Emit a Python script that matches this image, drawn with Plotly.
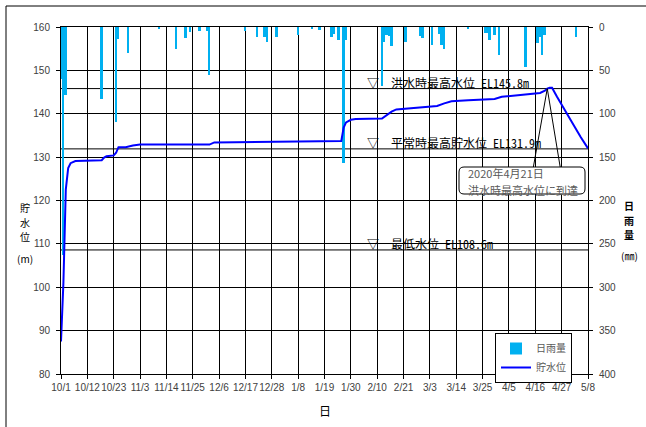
import plotly.graph_objects as go

# Daily rainfall (mm), plotted downward from the top on the right axis
rain_dates = [
    "2019-10-01", "2019-10-02", "2019-10-03", "2019-10-18", "2019-10-24", "2019-10-25",
    "2019-10-29", "2019-11-11", "2019-11-18", "2019-11-22", "2019-11-24", "2019-11-28",
    "2019-12-01", "2019-12-02", "2019-12-17", "2019-12-22", "2019-12-25", "2019-12-26",
    "2019-12-30", "2020-01-08", "2020-01-14", "2020-01-17", "2020-01-22", "2020-01-23",
    "2020-01-25", "2020-01-27", "2020-01-28", "2020-02-12", "2020-02-13", "2020-02-14",
    "2020-02-15", "2020-02-16", "2020-02-22", "2020-02-28", "2020-02-29", "2020-03-04",
    "2020-03-07", "2020-03-08", "2020-03-09", "2020-03-19", "2020-03-26", "2020-03-27",
    "2020-03-28", "2020-03-30", "2020-04-01", "2020-04-12", "2020-04-17", "2020-04-18",
    "2020-04-19", "2020-04-20", "2020-05-03",
]
rain_mm = [
    60, 263, 78, 83, 109, 14,
    30, 2, 25, 13, 6, 5,
    5, 55, 5, 12, 11, 17,
    11, 9, 2, 4, 12, 8,
    15, 157, 15, 68, 17, 9,
    10, 22, 17, 10, 13, 21,
    8, 21, 25, 2, 7, 7,
    15, 9, 32, 46, 19, 11,
    32, 9, 11,
]

# Reservoir water level (m)
level_dates = [
    "2019-10-01", "2019-10-02", "2019-10-03", "2019-10-04", "2019-10-05", "2019-10-07",
    "2019-10-18", "2019-10-19", "2019-10-20", "2019-10-23", "2019-10-24", "2019-10-25",
    "2019-10-28", "2019-10-31", "2019-11-03", "2019-12-02", "2019-12-04", "2019-12-26",
    "2019-12-28", "2020-01-26", "2020-01-27", "2020-01-28", "2020-01-30", "2020-02-01",
    "2020-02-12", "2020-02-14", "2020-02-16", "2020-02-18", "2020-02-28", "2020-03-06",
    "2020-03-09", "2020-03-12", "2020-03-19", "2020-03-30", "2020-04-02", "2020-04-05",
    "2020-04-13", "2020-04-18", "2020-04-20", "2020-04-21", "2020-04-22", "2020-04-23",
    "2020-04-25", "2020-04-27", "2020-05-01", "2020-05-05", "2020-05-08",
]
level_m = [
    87.5, 101.0, 122.5, 127.5, 128.6, 129.1,
    129.3, 129.9, 130.2, 130.4, 131.0, 132.3,
    132.3, 132.7, 132.9, 132.9, 133.4, 133.5,
    133.6, 133.7, 136.8, 138.0, 138.6, 138.8,
    138.9, 139.8, 140.5, 141.0, 141.4, 141.8,
    142.4, 142.9, 143.1, 143.4, 143.9, 144.1,
    144.5, 144.8, 145.3, 145.8, 146.0, 146.0,
    144.0, 142.0, 138.3, 134.6, 132.0,
]

tick_dates = [
    "2019-10-01", "2019-10-12", "2019-10-23", "2019-11-03", "2019-11-14", "2019-11-25",
    "2019-12-06", "2019-12-17", "2019-12-28", "2020-01-08", "2020-01-19", "2020-01-30",
    "2020-02-10", "2020-02-21", "2020-03-03", "2020-03-14", "2020-03-25", "2020-04-05",
    "2020-04-16", "2020-04-27", "2020-05-08",
]
tick_text = [
    "10/1", "10/12", "10/23", "11/3", "11/14", "11/25", "12/6", "12/17", "12/28", "1/8",
    "1/19", "1/30", "2/10", "2/21", "3/3", "3/14", "3/25", "4/5", "4/16", "4/27", "5/8",
]

ref_levels = [145.8, 131.9, 108.6]
ref_labels = ["洪水時最高水位 EL145.8m", "平常時最高貯水位 EL131.9m", "最低水位 EL108.6m"]

peak_date = "2020-04-21"
peak_level = 145.8
peak_note = ["2020年4月21日", "洪水時最高水位に到達"]

# Figure geometry (pixels)
W, H = 646, 427
L_M, R_M, T_M, B_M = 61, 58, 27, 53
PW, PH = W - L_M - R_M, H - T_M - B_M


def px(x):
    return (x - L_M) / PW


def py(y):
    return (H - B_M - y) / PH


JP = "Noto Sans CJK JP"
JP_MONO = "Noto Sans Mono CJK JP, Noto Sans CJK JP"
TICK_FONT = dict(family="Liberation Sans", size=10, color="#404040")

fig = go.Figure()
fig.add_trace(go.Bar(
    x=rain_dates, y=rain_mm, name="日雨量", yaxis="y",
    marker=dict(color="#00B0F0", line=dict(width=0)),
    width=0.8 * 86400000,
))
fig.add_trace(go.Scatter(
    x=level_dates, y=level_m, name="貯水位", yaxis="y2", mode="lines",
    line=dict(color="#0000FF", width=2),
))

shapes = []
annotations = []

# Reference water levels with their labels
for lv, lab in zip(ref_levels, ref_labels):
    shapes.append(dict(type="line", xref="paper", x0=0, x1=1, yref="y2", y0=lv, y1=lv,
                       line=dict(color="black", width=1), layer="below"))
    annotations.append(dict(text="▽　" + lab, xref="paper", x=px(365), xanchor="left",
                            yref="y2", y=lv, yanchor="middle", yshift=6.5, showarrow=False,
                            font=dict(family=JP_MONO, size=12, color="black")))

# Callout leader lines from the peak, then the rounded note box over their ends
for dx in (-14, 13):
    shapes.append(dict(type="line", xref="x", yref="y2",
                       xsizemode="pixel", xanchor=peak_date, x0=0, x1=dx,
                       ysizemode="pixel", yanchor=peak_level, y0=0, y1=-79,
                       line=dict(color="black", width=1), layer="above"))

bx0, bx1, by0, by1, r = 459, 585, 167, 194, 5
path = (
    f"M {px(bx0 + r)} {py(by0)} L {px(bx1 - r)} {py(by0)} "
    f"Q {px(bx1)} {py(by0)} {px(bx1)} {py(by0 + r)} "
    f"L {px(bx1)} {py(by1 - r)} Q {px(bx1)} {py(by1)} {px(bx1 - r)} {py(by1)} "
    f"L {px(bx0 + r)} {py(by1)} Q {px(bx0)} {py(by1)} {px(bx0)} {py(by1 - r)} "
    f"L {px(bx0)} {py(by0 + r)} Q {px(bx0)} {py(by0)} {px(bx0 + r)} {py(by0)} Z"
)
shapes.append(dict(type="path", xref="paper", yref="paper", path=path,
                   line=dict(color="black", width=1), fillcolor="white", layer="above"))
for txt, yc in zip(peak_note, (173, 190)):
    annotations.append(dict(text=txt, xref="paper", yref="paper", x=px(466), y=py(yc),
                            xanchor="left", yanchor="middle", showarrow=False,
                            font=dict(family=JP, size=11, color="#595959")))

# Stacked axis titles, one character per line
for ch, yc in zip(["貯", "水", "位", "(m)"], (207, 222, 237, 258)):
    annotations.append(dict(text=ch, xref="paper", yref="paper", x=px(25), y=py(yc),
                            xanchor="center", yanchor="middle", showarrow=False,
                            font=dict(family=JP, size=10, color="black")))
for ch, yc in zip(["<b>日</b>", "<b>雨</b>", "<b>量</b>", "(㎜)"], (206, 220, 234, 255)):
    annotations.append(dict(text=ch, xref="paper", yref="paper", x=px(629), y=py(yc),
                            xanchor="center", yanchor="middle", showarrow=False,
                            font=dict(family=JP, size=10, color="black")))
annotations.append(dict(text="日", xref="paper", yref="paper", x=px(325), y=py(410),
                        xanchor="center", yanchor="middle", showarrow=False,
                        font=dict(family=JP, size=12, color="black")))

# Outer frame (top and left edges fall inside the page)
shapes.append(dict(type="line", xref="paper", yref="paper", x0=px(6), x1=px(W + 10),
                   y0=py(6), y1=py(6), line=dict(color="black", width=1)))
shapes.append(dict(type="line", xref="paper", yref="paper", x0=px(6), x1=px(6),
                   y0=py(6), y1=py(H + 10), line=dict(color="black", width=1)))

fig.update_layout(
    width=W, height=H,
    margin=dict(l=L_M, r=R_M, t=T_M, b=B_M, autoexpand=False),
    paper_bgcolor="white", plot_bgcolor="white",
    font=dict(family="Liberation Sans", size=10, color="#404040"),
    bargap=0,
    showlegend=True,
    legend=dict(x=px(572), xanchor="right", y=py(333), yanchor="top",
                bordercolor="black", borderwidth=1, bgcolor="white",
                font=dict(family=JP, size=10, color="#595959"),
                traceorder="normal", itemwidth=30, tracegroupgap=0),
    xaxis=dict(
        type="date", range=[tick_dates[0], tick_dates[-1]],
        tickmode="array", tickvals=tick_dates, ticktext=tick_text, tickangle=0,
        showgrid=True, gridcolor="black", gridwidth=1,
        showline=True, linecolor="black", linewidth=1, mirror=True,
        ticks="outside", ticklen=4, tickcolor="black", tickfont=TICK_FONT,
        zeroline=False,
    ),
    yaxis=dict(
        side="right", range=[400, 0], tickmode="array",
        tickvals=[0, 50, 100, 150, 200, 250, 300, 350, 400],
        showgrid=True, gridcolor="black", gridwidth=1,
        showline=True, linecolor="black", linewidth=1,
        ticks="outside", ticklen=4, tickcolor="black", tickfont=TICK_FONT,
        ticklabelstandoff=4, zeroline=False,
    ),
    yaxis2=dict(
        overlaying="y", side="left", range=[80, 160], tickmode="array",
        tickvals=[80, 90, 100, 110, 120, 130, 140, 150, 160],
        showgrid=False, showline=True, linecolor="black", linewidth=1,
        ticks="outside", ticklen=4, tickcolor="black", tickfont=TICK_FONT,
        ticklabelstandoff=4, zeroline=False,
    ),
    shapes=shapes,
    annotations=annotations,
)

fig.write_html("out.html")
